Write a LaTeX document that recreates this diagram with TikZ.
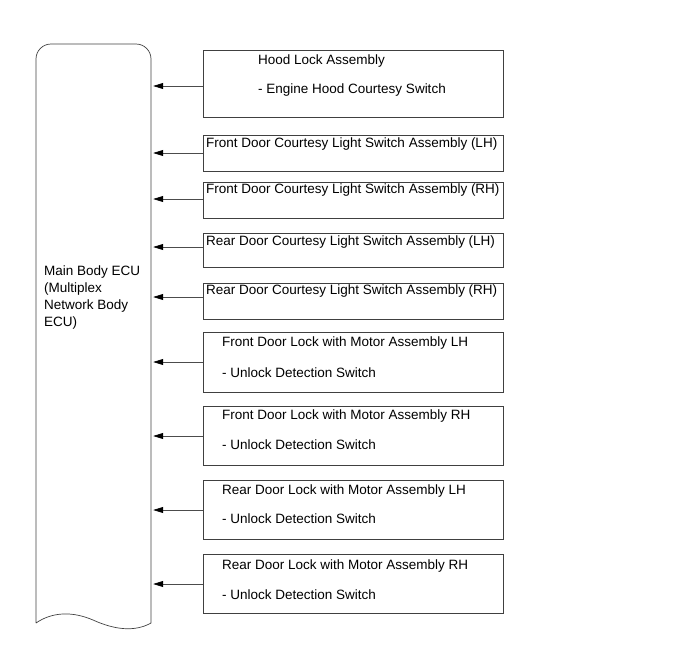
\documentclass[tikz,border=0pt]{standalone}
\usepackage{fontspec}
\setmainfont{Liberation Sans}
\usetikzlibrary{arrows.meta}
\begin{document}
\begin{tikzpicture}[x=1pt,y=-1pt,
  box/.style={draw=black!75,line width=0.7pt,rectangle,inner sep=0pt},
  lbl/.style={anchor=west,inner sep=0pt,font=\fontsize{13.5}{16}\selectfont},
  conn/.style={draw=black!70,line width=0.7pt,-{Triangle[length=10pt,width=6pt,color=black]}}]
\useasboundingbox (0,0) rectangle (689,659);
% ECU body
\node[inner sep=0pt,minimum width=115pt,minimum height=579pt] (ecu) at (93.5,333.5) {};
\draw[black!75,line width=0.7pt] (36,623) -- (36,59)
  .. controls (36,50.7) and (42.7,44) .. (51,44) -- (136,44)
  .. controls (144.3,44) and (151,50.7) .. (151,59) -- (151,623)
  .. controls (135,632) and (115,630) .. (93,620)
  .. controls (72,611) and (52,612) .. (36,623);
\node[lbl,align=left,font=\fontsize{13.5}{16.8}\selectfont,anchor=north west] (ecut) at (44,266) {Main Body ECU\\(Multiplex\\Network Body\\ECU)};
% boxes
\node[box,minimum width=300pt,minimum height=67pt] (b1) at (353,83.5) {};
\node[box,minimum width=300pt,minimum height=36pt] (b2) at (353,153) {};
\node[box,minimum width=300pt,minimum height=36pt] (b3) at (353,200) {};
\node[box,minimum width=300pt,minimum height=34pt] (b4) at (353,250) {};
\node[box,minimum width=300pt,minimum height=36pt] (b5) at (353,301) {};
\node[box,minimum width=300pt,minimum height=60pt] (b6) at (353,362) {};
\node[box,minimum width=300pt,minimum height=59pt] (b7) at (353,435.5) {};
\node[box,minimum width=300pt,minimum height=59pt] (b8) at (353,509.5) {};
\node[box,minimum width=300pt,minimum height=59pt] (b9) at (353,583.5) {};
% labels
\node[lbl] (t1a) at (258,61) {Hood Lock Assembly};
\node[lbl] (t1b) at (258,90) {- Engine Hood Courtesy Switch};
\node[lbl] (t2) at (206,144) {Front Door Courtesy Light Switch Assembly (LH)};
\node[lbl] (t3) at (206,190) {Front Door Courtesy Light Switch Assembly (RH)};
\node[lbl] (t4) at (206,242) {Rear Door Courtesy Light Switch Assembly (LH)};
\node[lbl] (t5) at (206,291) {Rear Door Courtesy Light Switch Assembly (RH)};
\node[lbl] (t6a) at (222,343) {Front Door Lock with Motor Assembly LH};
\node[lbl] (t6b) at (222,373) {- Unlock Detection Switch};
\node[lbl] (t7a) at (222,416) {Front Door Lock with Motor Assembly RH};
\node[lbl] (t7b) at (222,445) {- Unlock Detection Switch};
\node[lbl] (t8a) at (222,491) {Rear Door Lock with Motor Assembly LH};
\node[lbl] (t8b) at (222,519) {- Unlock Detection Switch};
\node[lbl] (t9a) at (222,566) {Rear Door Lock with Motor Assembly RH};
\node[lbl] (t9b) at (222,595) {- Unlock Detection Switch};
% connectors
\coordinate (c1) at (b1.west |- 0,86);
\coordinate (c2) at (b2.west |- 0,153);
\coordinate (c3) at (b3.west |- 0,199);
\coordinate (c4) at (b4.west |- 0,247);
\coordinate (c5) at (b5.west |- 0,297);
\coordinate (c6) at (b6.west |- 0,362);
\coordinate (c7) at (b7.west |- 0,436);
\coordinate (c8) at (b8.west |- 0,510);
\coordinate (c9) at (b9.west |- 0,584);
\foreach \i in {1,...,9}{
  \draw[conn] (c\i) -- ([xshift=2pt]ecu.east |- c\i);
}
\end{tikzpicture}
\end{document}
